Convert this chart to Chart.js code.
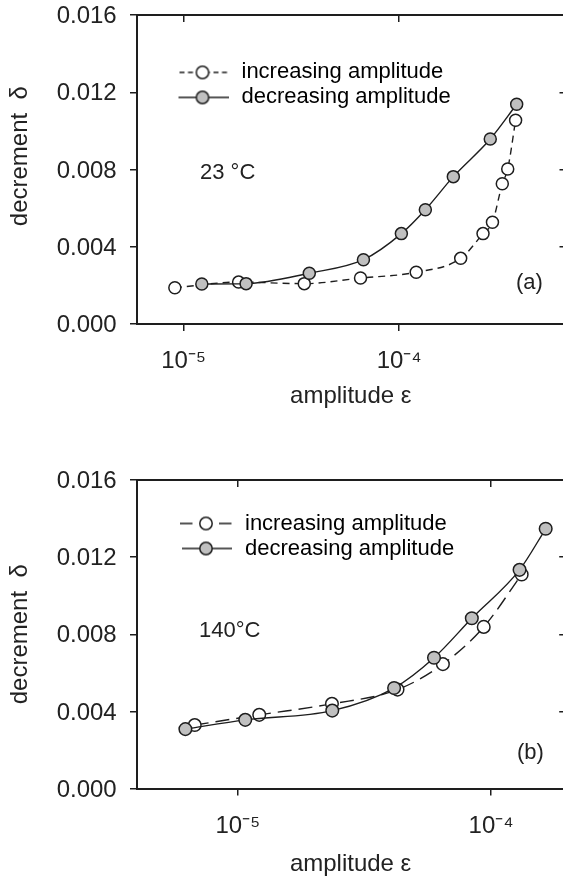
<!DOCTYPE html>
<html>
<head>
<meta charset="utf-8">
<script src="https://cdn.jsdelivr.net/npm/chart.js@4.4.1/dist/chart.umd.min.js"></script>
<style>
  html, body { margin: 0; padding: 0; background: #fff; overflow: hidden; }
  #wrap { position: relative; width: 563px; height: 879px; overflow: hidden; background: #fff; }
  #wrap canvas { position: absolute; left: 0; }
  #cA { top: 0; }
  #cB { top: 430px; }
</style>
</head>
<body>
<div id="wrap">
  <canvas id="cA" width="572" height="430"></canvas>
  <canvas id="cB" width="572" height="449"></canvas>
</div>
<script>
// ---------- data ----------
// panel (a), 23 °C
const incAmpA = [9.11e-6, 1.80e-5, 3.63e-5, 6.62e-5, 1.20e-4, 1.93e-4, 2.45e-4, 2.71e-4, 3.01e-4, 3.19e-4, 3.47e-4];
const incDecA = [0.00188, 0.00217, 0.00209, 0.00238, 0.00268, 0.00340, 0.00468, 0.00527, 0.00726, 0.00803, 0.01055];
const decAmpA = [1.215e-5, 1.95e-5, 3.83e-5, 6.83e-5, 1.024e-4, 1.323e-4, 1.784e-4, 2.647e-4, 3.51e-4];
const decDecA = [0.00207, 0.00209, 0.00263, 0.00333, 0.00468, 0.00592, 0.00763, 0.00958, 0.01138];

// panel (b), 140 °C
const incAmpB = [6.76e-6, 1.215e-5, 2.353e-5, 4.27e-5, 6.45e-5, 9.35e-5, 1.32e-4];
const incDecB = [0.00329, 0.00382, 0.00439, 0.00513, 0.00645, 0.00838, 0.0111];
const decAmpB = [6.21e-6, 1.07e-5, 2.36e-5, 4.14e-5, 5.95e-5, 8.39e-5, 1.295e-4, 1.642e-4];
const decDecB = [0.00308, 0.00356, 0.00404, 0.00521, 0.00678, 0.00883, 0.01134, 0.01347];

const seriesNames = ['increasing amplitude', 'decreasing amplitude'];
const xTicks = [1e-5, 1e-4];
const xTickLabels = ['10\u207B\u2075', '10\u207B\u2074'];
const yTicks = [0, 0.004, 0.008, 0.012, 0.016];

// ---------- style ----------
const INK = '#1e1e1e';
const TXT = '#222';
const GRAY = '#c0c0c0';
const FAMILY = '"Liberation Sans", Arial, sans-serif';
const AXIS_FONT = { family: FAMILY, size: 24 };
const NOTE_FONT = { family: FAMILY, size: 22 };

function toPts(xs, ys) { return xs.map((x, i) => ({ x: x, y: ys[i] })); }

// legend glyph: line sample with the marker in the middle
function sampleImage(dash, fill, from) {
  const c = document.createElement('canvas');
  c.width = 52; c.height = 18;
  const g = c.getContext('2d');
  g.strokeStyle = INK; g.lineWidth = 1.4;
  g.setLineDash(dash);
  g.beginPath(); g.moveTo(from, 9); g.lineTo(52, 9); g.stroke();
  g.setLineDash([]);
  g.lineWidth = 1.5;
  g.beginPath(); g.arc(26, 9, 6.2, 0, Math.PI * 2);
  g.fillStyle = fill; g.fill(); g.stroke();
  return c;
}

// move the chartArea legend to a fixed spot inside the plot
const legendPlace = {
  id: 'legendPlace',
  afterLayout(chart, args, opts) {
    const lg = chart.legend;
    if (!lg) return;
    lg.left = opts.x; lg.top = opts.y;
    lg.right = opts.x + 320; lg.bottom = opts.y + 200;
  }
};

// temperature and panel letter
const panelText = {
  id: 'panelText',
  afterDraw(chart, args, opts) {
    const ctx = chart.ctx;
    ctx.save();
    ctx.font = NOTE_FONT.size + 'px ' + NOTE_FONT.family;
    ctx.fillStyle = TXT;
    ctx.textBaseline = 'middle';
    ctx.textAlign = 'left';
    opts.items.forEach(it => ctx.fillText(it.text, it.x, it.y));
    ctx.restore();
  }
};

function noPad(s) { s.paddingTop = 0; s.paddingBottom = 0; s.paddingLeft = 0; s.paddingRight = 0; }

function makePanel(id, p) {
  const samples = [sampleImage(p.legendDash, '#fff', p.sampleFrom), sampleImage([], GRAY, 2)];
  const border = { display: true, color: INK, width: 2 };
  const setX = s => { s.ticks = xTicks.map(v => ({ value: v })); };
  const setY = s => { s.ticks = yTicks.map(v => ({ value: v })); };

  return new Chart(document.getElementById(id), {
    type: 'line',
    data: {
      datasets: [
        {
          label: seriesNames[0], data: toPts(p.incX, p.incY), order: 1,
          borderColor: INK, borderWidth: 1.4, borderDash: p.dash, fill: false,
          cubicInterpolationMode: 'monotone',
          pointRadius: p.r, pointBorderWidth: 1.5, pointBorderColor: INK, pointBackgroundColor: '#fff'
        },
        {
          label: seriesNames[1], data: toPts(p.decX, p.decY), order: 0,
          borderColor: INK, borderWidth: 1.4, fill: false,
          cubicInterpolationMode: 'monotone',
          pointRadius: p.r, pointBorderWidth: 1.5, pointBorderColor: INK, pointBackgroundColor: GRAY
        }
      ]
    },
    options: {
      responsive: false,
      animation: false,
      devicePixelRatio: 1,
      events: [],
      layout: { padding: { left: 0, top: p.top, right: 0, bottom: 0 } },
      scales: {
        x: {
          type: 'logarithmic', position: 'bottom', min: p.xMin, max: p.xMax,
          afterBuildTicks: setX,
          afterFit: s => { s.height = p.xAxisH; noPad(s); },
          ticks: { callback: (v, i) => xTickLabels[i], font: AXIS_FONT, color: TXT, padding: 16, maxRotation: 0, autoSkip: false },
          grid: { drawOnChartArea: false, tickLength: 7, color: INK, lineWidth: 1.5 },
          border: border,
          title: { display: true, text: 'amplitude ε', font: AXIS_FONT, color: TXT, padding: { top: 0, bottom: p.xTitlePad } }
        },
        x2: {
          type: 'logarithmic', position: 'top', min: p.xMin, max: p.xMax,
          afterBuildTicks: setX,
          afterFit: s => { s.height = 0; noPad(s); },
          ticks: { display: false },
          grid: { drawOnChartArea: false, tickLength: -7, color: INK, lineWidth: 1.5 },
          border: border
        },
        y: {
          type: 'linear', position: 'left', min: 0, max: 0.016,
          afterBuildTicks: setY,
          afterFit: s => { s.width = 137; noPad(s); },
          ticks: { callback: v => v.toFixed(3), font: AXIS_FONT, color: TXT, padding: 13.3, labelOffset: 1.5, autoSkip: false },
          grid: { drawOnChartArea: false, tickLength: 7, color: INK, lineWidth: 1.5 },
          border: border,
          title: { display: true, text: p.yTitle, font: AXIS_FONT, color: TXT, padding: { top: 5.6, bottom: 0 } }
        },
        y2: {
          type: 'linear', position: 'right', min: 0, max: 0.016,
          afterBuildTicks: setY,
          afterFit: s => { s.width = 7; noPad(s); },
          ticks: { display: false },
          grid: { drawOnChartArea: false, tickLength: -5, color: INK, lineWidth: 1.5 },
          border: border
        }
      },
      plugins: {
        tooltip: { enabled: false },
        legend: {
          position: 'chartArea', align: 'start',
          labels: {
            usePointStyle: true, pointStyleWidth: 56, padding: 3,
            font: NOTE_FONT, color: TXT,
            generateLabels: () => seriesNames.map((name, i) => ({
              text: name, pointStyle: samples[i], fillStyle: 'transparent',
              strokeStyle: 'transparent', lineWidth: 0, hidden: false, datasetIndex: i
            }))
          }
        },
        legendPlace: { x: p.legendX, y: p.legendY },
        panelText: { items: p.notes }
      }
    },
    plugins: [legendPlace, panelText]
  });
}

makePanel('cA', {
  incX: incAmpA, incY: incDecA, decX: decAmpA, decY: decDecA,
  xMin: 6.08e-6, xMax: 5.85e-4,
  top: 15, xAxisH: 106, xTitlePad: 19.4, r: 6,
  dash: [7, 5], legendDash: [5, 3.5], sampleFrom: 3,
  yTitle: '    decrement  δ',
  legendX: 171.5, legendY: 58.4,
  notes: [{ text: '23 °C', x: 200, y: 172.5 }, { text: '(a)', x: 516, y: 282.5 }]
});

makePanel('cB', {
  incX: incAmpB, incY: incDecB, decX: decAmpB, decY: decDecB,
  xMin: 4.0e-6, xMax: 1.943e-4,
  top: 50, xAxisH: 90.5, xTitlePad: 0.4, r: 6.3,
  dash: [14, 7], legendDash: [12.5, 26.5], sampleFrom: 0,
  yTitle: 'decrement  δ',
  legendX: 175, legendY: 79.5,
  notes: [{ text: '140°C', x: 199, y: 200.5 }, { text: '(b)', x: 517, y: 323 }]
});
</script>
</body>
</html>
